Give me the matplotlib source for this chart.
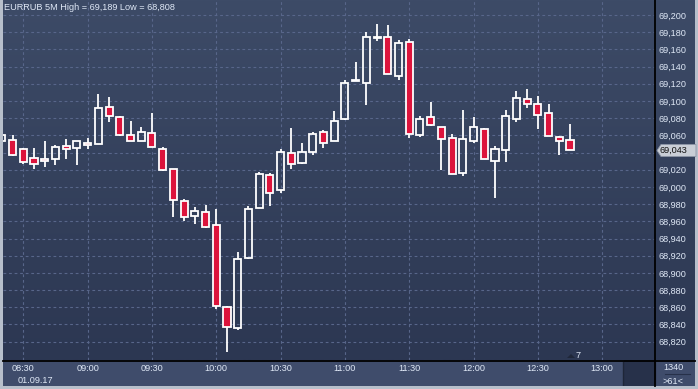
import matplotlib
matplotlib.use("Agg")
from matplotlib import pyplot as plt
from matplotlib.lines import Line2D
from matplotlib.patches import Polygon, Rectangle
import numpy as np

# 5-minute EURRUB candles, first one at 08:20 (minutes relative to 08:30)
start_minute = -10
step = 5

opens = [69.054, 69.055, 69.044, 69.034, 69.032, 69.033, 69.048, 69.045, 69.051, 69.050,
         69.093, 69.081, 69.060, 69.054, 69.063, 69.044, 69.021, 68.984, 68.966, 68.971,
         68.956, 68.860, 68.836, 68.917, 68.976, 69.014, 68.997, 69.039, 69.028, 69.041,
         69.064, 69.053, 69.079, 69.123, 69.121, 69.173, 69.175, 69.129, 69.169, 69.060,
         69.081, 69.070, 69.057, 69.016, 69.053, 69.067, 69.030, 69.043, 69.079, 69.102,
         69.096, 69.086, 69.058, 69.055]
highs = [69.062, 69.060, 69.045, 69.045, 69.054, 69.049, 69.056, 69.054, 69.057, 69.108,
         69.105, 69.082, 69.077, 69.070, 69.086, 69.047, 69.021, 68.986, 68.977, 68.979,
         68.974, 68.862, 68.924, 68.978, 69.017, 69.016, 69.044, 69.068, 69.051, 69.064,
         69.066, 69.088, 69.124, 69.145, 69.180, 69.189, 69.188, 69.171, 69.172, 69.083,
         69.099, 69.070, 69.062, 69.090, 69.081, 69.068, 69.048, 69.090, 69.112, 69.114,
         69.106, 69.097, 69.059, 69.073]
lows = [69.052, 69.036, 69.027, 69.021, 69.023, 69.025, 69.033, 69.026, 69.044, 69.050,
        69.076, 69.059, 69.053, 69.053, 69.046, 69.019, 68.965, 68.960, 68.957, 68.952,
        68.858, 68.808, 68.834, 68.916, 68.975, 68.978, 68.993, 69.021, 69.027, 69.037,
        69.045, 69.053, 69.078, 69.123, 69.095, 69.170, 69.131, 69.125, 69.057, 69.058,
        69.071, 69.020, 69.015, 69.013, 69.051, 69.032, 68.987, 69.029, 69.076, 69.092,
        69.067, 69.059, 69.037, 69.043]
closes = [69.060, 69.037, 69.029, 69.027, 69.030, 69.047, 69.044, 69.054, 69.049, 69.092,
          69.082, 69.060, 69.054, 69.064, 69.046, 69.020, 68.985, 68.965, 68.972, 68.953,
          68.861, 68.837, 68.916, 68.974, 69.015, 68.993, 69.041, 69.027, 69.041, 69.062,
          69.051, 69.077, 69.121, 69.124, 69.175, 69.174, 69.131, 69.167, 69.062, 69.079,
          69.072, 69.056, 69.015, 69.056, 69.070, 69.032, 69.044, 69.082, 69.103, 69.097,
          69.084, 69.059, 69.053, 69.043]

time_ticks = [0, 30, 60, 90, 120, 150, 180, 210, 240, 270]
time_labels = ["08:30", "09:00", "09:30", "10:00", "10:30", "11:00", "11:30", "12:00", "12:30", "13:00"]
price_ticks = np.arange(68.82, 69.2001, 0.02)
last_price = 69.043

W, H = 698, 389
txt = "#dfe8f6"
red = "#dc143c"
font = "Liberation Sans"
plt.rcParams["font.family"] = font


def box(x0, y0, x1, y1):
    return [x0 / W, 1 - y1 / H, (x1 - x0) / W, (y1 - y0) / H]


fig = plt.figure(figsize=(W / 100, H / 100), dpi=100, facecolor="#b7bfcb")

# gradient background for chart + price panel
bg = fig.add_axes(box(3, 0, 695, 360))
top_c = np.array([61, 75, 103]) / 255
bot_c = np.array([44, 55, 82]) / 255
t = np.linspace(0, 1, 256)[:, None]
grad = (top_c * (1 - t) + bot_c * t)[:, None, :]
bg.imshow(grad, aspect="auto", extent=[0, 1, 0, 1])
bg.axis("off")

# bottom time strip
strip = fig.add_axes(box(3, 360, 695, 386))
strip.set_xlim(3, 695)
strip.set_ylim(386, 360)
strip.add_patch(Rectangle((3, 360), 692, 26, color="#3f4c6b"))
strip.add_patch(Rectangle((624, 360), 31, 26, color="#27314a"))
strip.plot([623, 623], [362, 386], color="#1e2638", lw=1)
strip.axis("off")

# main candle chart
ax = fig.add_axes(box(3, 0, 655, 360))
ax.set_facecolor("none")
xmin = -20.3 * 5 / 10.72
ax.set_xlim(xmin, xmin + 652 * 5 / 10.72)
ax.set_ylim(69.2 - 344 * 0.0011667, 69.2 + 15 * 0.0011667)

body_w = 3.3
for i, (o, h, l, c) in enumerate(zip(opens, highs, lows, closes)):
    x = start_minute + i * step
    lo, hi = min(o, c), max(o, c)
    ax.vlines(x, hi, h, color="white", lw=1.3, zorder=3)
    ax.vlines(x, l, lo, color="white", lw=1.3, zorder=3)
    face = red if c < o else "none"
    ax.bar(x, max(hi - lo, 0.0008), width=body_w, bottom=lo, color=face,
           edgecolor="white", linewidth=1.3, zorder=4)

ax.set_xticks(time_ticks)
ax.set_xticklabels(time_labels)
ax.set_yticks(price_ticks)
# the tick next to the last-price box is hidden by it
ax.set_yticklabels(["" if abs(p - last_price) < 0.01 else f"{p:.3f}".replace(".", ",")
                    for p in price_ticks])
ax.yaxis.tick_right()
ax.tick_params(axis="y", length=0, pad=2.5, labelsize=6.6, colors=txt)
ax.tick_params(axis="x", length=0, pad=3.2, labelsize=6.6, colors=txt)
ax.grid(color="#58668a", linestyle=(0, (2.5, 2.5)), linewidth=0.8)
for s in ax.spines.values():
    s.set_visible(False)

# separators
fig.add_artist(Line2D([655 / W, 655 / W], [1 - 386 / H, 1], color="black", lw=1.3))
fig.add_artist(Line2D([3 / W, 695 / W], [1 - 360.5 / H, 1 - 360.5 / H], color="black", lw=1.3))

# last price marker
py = 150.5
fig.add_artist(Polygon([(657 / W, 1 - py / H), (661 / W, 1 - 144.5 / H), (696 / W, 1 - 144.5 / H),
                        (696 / W, 1 - 156.5 / H), (661 / W, 1 - 156.5 / H)],
                       closed=True, facecolor="#c9ced6", edgecolor="#8d96a6", lw=0.6))
fig.text(660 / W, 1 - py / H, f"{last_price:.3f}".replace(".", ","), fontsize=6.6,
         color="#111111", va="center", ha="left")

# header and footer texts
fig.text(4 / W, 1 - 8 / H, "EURRUB 5M High = 69,189 Low = 68,808", fontsize=6.6,
         color=txt, va="center", ha="left")
fig.text(35 / W, 1 - 380.5 / H, "01.09.17", fontsize=6.6, color=txt, va="center", ha="center")
fig.text(673 / W, 1 - 367.5 / H, "1340", fontsize=6.6, color=txt, va="center", ha="center")
fig.add_artist(Line2D([665 / W, 690 / W], [1 - 374 / H, 1 - 374 / H], color="#27314a", lw=0.8))
fig.text(673 / W, 1 - 381 / H, ">61<", fontsize=6.6, color=txt, va="center", ha="center")
fig.text(578 / W, 1 - 355 / H, "7", fontsize=6.6, color=txt, va="center", ha="center")
fig.add_artist(Polygon([(567 / W, 1 - 358 / H), (571 / W, 1 - 354 / H), (575 / W, 1 - 358 / H)],
                       closed=True, facecolor="#1f2739", edgecolor="none"))

fig.savefig("out.png", dpi=100, facecolor=fig.get_facecolor())
